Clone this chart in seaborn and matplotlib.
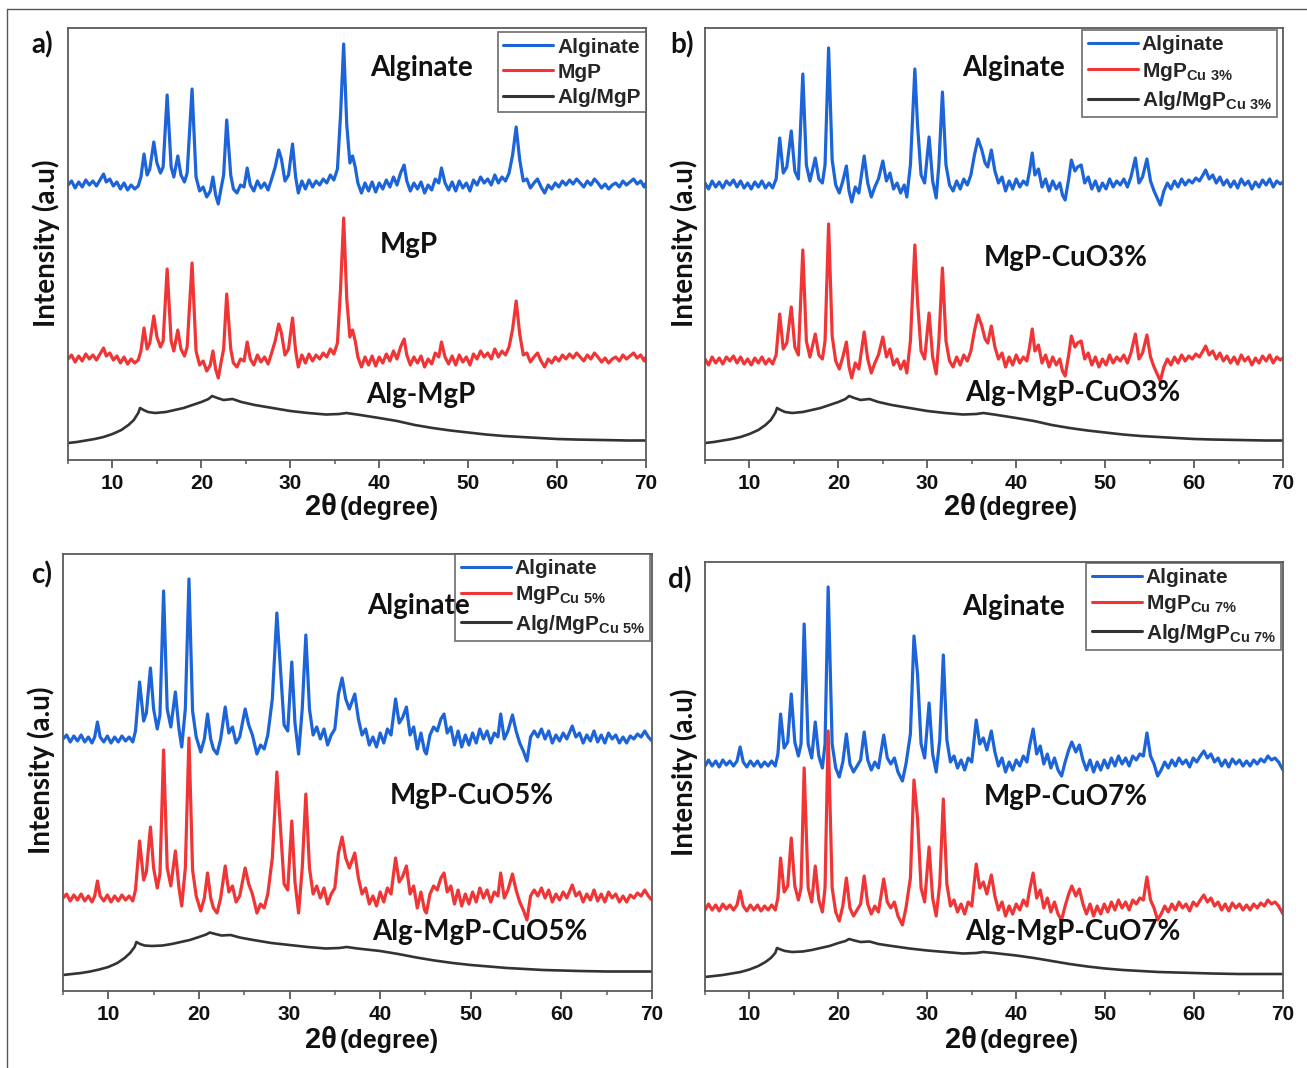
import matplotlib
matplotlib.use("Agg")
import matplotlib.pyplot as plt
import seaborn as sns
import pandas as pd
from matplotlib.lines import Line2D

# ---------------------------------------------------------------- data
two_theta_ticks = [10, 20, 30, 40, 50, 60, 70]

# crystalline scans: (2theta, counts above the pattern baseline)
scan_a = [
    (5.0, 0), (5.4, 4), (5.8, -3), (6.2, 3), (6.6, -2), (7.0, 5), (7.4, 0), (7.8, 4), (8.2, -1),
    (8.6, 5), (9.0, 11), (9.3, 3), (9.7, 6), (10.1, -1), (10.5, 3), (10.9, -4), (11.3, 2), (11.7, -5),
    (12.1, 0), (12.5, -4), (12.9, -1), (13.2, 8), (13.55, 31), (13.9, 10), (14.2, 16), (14.65, 43),
    (15.0, 22), (15.4, 12), (15.7, 18), (16.15, 90), (16.6, 18), (16.9, 8), (17.35, 29), (17.7, 10),
    (18.1, 3), (18.4, 12), (18.95, 96), (19.4, 8), (19.8, -6), (20.2, -2), (20.6, -12), (21.0, -6),
    (21.3, 8), (21.6, -10), (21.9, -19), (22.2, -4), (22.5, 10), (22.85, 65), (23.3, 10), (23.6, -4),
    (24.0, -8), (24.4, 0), (24.8, -2), (25.15, 17), (25.5, 0), (25.9, -6), (26.3, 4), (26.7, -3),
    (27.1, 2), (27.5, -5), (27.9, 6), (28.3, 18), (28.7, 35), (29.0, 26), (29.4, 4), (29.8, 10),
    (30.25, 41), (30.6, 8), (30.9, -8), (31.3, 4), (31.7, -4), (32.1, 5), (32.5, -2), (32.9, 4),
    (33.3, 0), (33.7, 6), (34.1, 2), (34.5, 10), (34.9, 5), (35.3, 16), (35.65, 70), (36.0, 141),
    (36.35, 60), (36.7, 22), (37.0, 29), (37.3, 18), (37.6, 2), (38.0, -8), (38.4, 2), (38.8, -6),
    (39.2, 3), (39.6, -7), (40.0, 2), (40.4, -4), (40.8, 5), (41.2, -2), (41.6, 8), (42.0, 0),
    (42.4, 12), (42.8, 20), (43.1, 4), (43.5, -6), (43.9, 2), (44.3, -4), (44.7, 3), (45.1, -8),
    (45.5, 0), (45.9, -5), (46.3, 6), (46.7, 2), (47.0, 17), (47.4, 2), (47.8, -5), (48.2, 3),
    (48.6, -6), (49.0, 4), (49.4, -3), (49.8, 2), (50.2, -6), (50.6, 5), (51.0, 0), (51.4, 8),
    (51.8, 2), (52.2, 6), (52.6, 0), (53.0, 10), (53.4, 2), (53.8, 8), (54.2, 4), (54.6, 12),
    (55.0, 30), (55.4, 58), (55.8, 25), (56.2, 4), (56.6, 6), (57.0, -3), (57.4, 2), (57.8, 6),
    (58.2, -2), (58.6, -8), (59.0, 0), (59.4, -4), (59.8, 2), (60.2, -2), (60.6, 4), (61.0, 0),
    (61.4, 5), (61.8, 1), (62.2, 6), (62.6, 2), (63.0, -2), (63.4, 4), (63.8, 0), (64.2, 6),
    (64.6, 2), (65.0, -3), (65.4, 1), (65.8, -4), (66.2, 0), (66.6, 2), (67.0, -2), (67.4, 4),
    (67.8, 0), (68.2, 3), (68.6, 6), (69.0, 1), (69.4, 4), (69.8, -2), (70.0, 2),
]

scan_b = [
    (5.0, 2), (5.4, -4), (5.8, 4), (6.2, -2), (6.6, 3), (7.0, -3), (7.4, 4), (7.8, 0), (8.2, 5),
    (8.6, -2), (9.0, 4), (9.4, -3), (9.8, 2), (10.2, -4), (10.6, 3), (11.0, -2), (11.4, 4), (11.8, -3),
    (12.2, 2), (12.6, -3), (13.0, 6), (13.4, 47), (13.8, 12), (14.2, 18), (14.7, 54), (15.1, 14),
    (15.5, 6), (16.0, 111), (16.4, 20), (16.8, 4), (17.4, 27), (17.8, 6), (18.2, 2), (18.5, 20),
    (18.9, 137), (19.3, 25), (19.7, 0), (20.1, -8), (20.5, 4), (20.9, 19), (21.2, -6), (21.5, -17),
    (21.9, -2), (22.3, -8), (22.9, 29), (23.3, 2), (23.7, -12), (24.1, -2), (24.5, 6), (25.0, 24),
    (25.4, 4), (25.8, 12), (26.2, -4), (26.6, 2), (27.0, -8), (27.4, 0), (27.7, -12), (28.1, 20),
    (28.6, 116), (28.9, 60), (29.3, 10), (29.7, 2), (30.2, 48), (30.6, 4), (31.0, -13), (31.3, 20),
    (31.7, 93), (32.1, 20), (32.5, 0), (32.9, -6), (33.3, 4), (33.7, -4), (34.1, 6), (34.5, 0),
    (34.9, 10), (35.3, 30), (35.7, 46), (36.1, 36), (36.5, 22), (36.8, 18), (37.2, 35), (37.6, 14),
    (38.0, 2), (38.4, 8), (38.8, -6), (39.2, 4), (39.6, -4), (40.0, 6), (40.4, -2), (40.8, 4),
    (41.2, 0), (41.5, 14), (41.8, 32), (42.1, 10), (42.5, 16), (42.9, -2), (43.3, 6), (43.7, -6),
    (44.1, 4), (44.5, -4), (44.9, 2), (45.2, -10), (45.5, -15), (45.9, 6), (46.2, 25), (46.6, 14),
    (46.9, 18), (47.3, 20), (47.7, 2), (48.1, 8), (48.5, -4), (48.9, 4), (49.3, -6), (49.7, 2),
    (50.1, -4), (50.5, 6), (50.9, -2), (51.3, 4), (51.7, 0), (52.1, 6), (52.5, -2), (52.9, 8),
    (53.4, 27), (53.8, 2), (54.2, 8), (54.7, 26), (55.1, 4), (55.5, -6), (55.9, -14), (56.2, -20),
    (56.6, -6), (57.0, 2), (57.4, -4), (57.8, 4), (58.2, -2), (58.6, 6), (59.0, 0), (59.4, 5),
    (59.8, 2), (60.2, 7), (60.6, 4), (61.0, 10), (61.3, 15), (61.7, 6), (62.1, 10), (62.5, 2),
    (62.9, 8), (63.3, 0), (63.7, 5), (64.1, -2), (64.5, 4), (64.9, -3), (65.3, 6), (65.7, 0),
    (66.1, 4), (66.5, -4), (66.9, 3), (67.3, -2), (67.7, 5), (68.1, 0), (68.5, 6), (68.9, -2),
    (69.3, 4), (69.7, 1), (70.0, 3),
]

scan_c = [
    (5.0, 0), (5.4, 4), (5.8, -3), (6.2, 3), (6.6, -2), (7.0, 4), (7.4, -3), (7.8, 2), (8.2, -4),
    (8.5, 2), (8.8, 17), (9.1, 2), (9.5, -3), (9.9, 3), (10.3, -4), (10.7, 2), (11.1, -3), (11.5, 3),
    (11.9, -2), (12.3, 2), (12.7, -3), (13.0, 8), (13.45, 57), (13.9, 18), (14.2, 26), (14.65, 71),
    (15.0, 30), (15.4, 10), (15.7, 24), (16.1, 148), (16.5, 30), (16.9, 12), (17.4, 47), (17.8, 10),
    (18.1, -8), (18.5, 30), (18.9, 160), (19.3, 28), (19.7, 2), (20.2, -13), (20.6, 0), (20.95, 25),
    (21.3, 0), (21.6, -10), (22.0, -15), (22.4, 0), (22.9, 32), (23.3, 6), (23.7, 12), (24.1, -4),
    (24.5, 2), (25.1, 30), (25.5, 14), (25.9, 4), (26.4, -15), (26.8, -6), (27.2, -10), (27.6, 4),
    (28.1, 40), (28.6, 126), (29.0, 70), (29.4, 14), (29.8, 8), (30.25, 77), (30.6, 16), (31.0, -15),
    (31.4, 30), (31.8, 104), (32.2, 30), (32.6, 4), (33.0, 12), (33.4, 0), (33.8, 10), (34.2, -6),
    (34.6, 4), (35.0, 10), (35.4, 45), (35.8, 61), (36.2, 40), (36.6, 30), (37.2, 45), (37.6, 20),
    (38.0, 4), (38.4, 10), (38.8, -6), (39.2, 2), (39.6, -8), (40.0, 6), (40.4, -4), (40.8, 10),
    (41.2, 4), (41.7, 40), (42.1, 16), (42.5, 22), (42.9, 32), (43.3, 4), (43.7, 12), (44.1, -10),
    (44.5, 6), (44.9, -12), (45.1, -15), (45.5, 4), (45.9, 12), (46.3, 8), (46.7, 20), (47.05, 25),
    (47.4, 6), (47.8, 12), (48.2, -6), (48.6, 8), (49.0, -8), (49.4, 4), (49.8, -6), (50.2, 6),
    (50.6, -4), (51.0, 10), (51.4, 0), (51.8, 8), (52.2, -4), (52.6, 6), (53.0, 2), (53.3, 25),
    (53.7, 0), (54.1, 8), (54.6, 24), (55.0, 8), (55.4, -4), (55.8, -12), (56.2, -22), (56.6, 2),
    (57.0, 8), (57.4, 2), (57.8, 10), (58.2, 0), (58.6, 8), (59.0, -4), (59.4, 4), (59.8, -2),
    (60.2, 6), (60.6, 0), (61.2, 13), (61.6, 2), (62.0, 6), (62.4, -4), (62.8, 4), (63.2, -2),
    (63.6, 8), (64.0, -3), (64.4, 4), (64.8, -4), (65.2, 6), (65.6, 0), (66.0, 4), (66.4, -4),
    (66.8, 2), (67.2, -4), (67.6, 3), (68.0, 0), (68.4, 5), (68.8, 2), (69.2, 8), (69.6, 2),
    (70.0, -2),
]

scan_d = [
    (5.0, -2), (5.4, 4), (5.8, -2), (6.2, 3), (6.6, -3), (7.0, 4), (7.4, -1), (7.8, 3), (8.2, -2),
    (8.6, 3), (8.95, 17), (9.3, 2), (9.7, -3), (10.1, 3), (10.5, -2), (10.9, 3), (11.3, -3),
    (11.7, 2), (12.1, -2), (12.5, 3), (12.9, -2), (13.2, 10), (13.5, 50), (13.9, 16), (14.3, 22),
    (14.7, 70), (15.1, 22), (15.5, 8), (15.8, 20), (16.15, 140), (16.6, 20), (17.0, 6), (17.4, 42),
    (17.8, 8), (18.2, -4), (18.5, 20), (18.85, 177), (19.3, 20), (19.7, -4), (20.1, -13), (20.5, 2),
    (20.9, 30), (21.3, 0), (21.7, -8), (22.1, -2), (22.5, 4), (22.9, 32), (23.3, 4), (23.7, -6),
    (24.1, 2), (24.5, -4), (25.1, 29), (25.5, 6), (25.9, 0), (26.3, 6), (26.7, -8), (27.2, -17),
    (27.6, 0), (28.1, 30), (28.5, 128), (28.9, 90), (29.3, 20), (29.7, 6), (30.2, 61), (30.6, 10),
    (31.0, -8), (31.4, 24), (31.8, 109), (32.2, 24), (32.6, 2), (33.0, 8), (33.4, -4), (33.8, 4),
    (34.2, -6), (34.6, 6), (35.0, 2), (35.5, 44), (35.9, 20), (36.3, 26), (36.7, 14), (37.2, 33),
    (37.6, 12), (38.0, -2), (38.4, 6), (38.8, -8), (39.2, 2), (39.6, -6), (40.0, 4), (40.4, -2),
    (40.8, 8), (41.2, 2), (41.5, 18), (41.9, 35), (42.3, 10), (42.7, 18), (43.1, 0), (43.5, 10),
    (43.9, -4), (44.3, 6), (44.7, -6), (45.1, -12), (45.5, 2), (45.9, 14), (46.25, 22), (46.7, 12),
    (47.1, 19), (47.5, 4), (47.9, -6), (48.3, 4), (48.7, -8), (49.1, 2), (49.5, -6), (49.9, 4),
    (50.3, -4), (50.7, 6), (51.1, -2), (51.5, 8), (51.9, 0), (52.3, 6), (52.7, -2), (53.1, 8),
    (53.5, 4), (53.9, 10), (54.3, 8), (54.7, 31), (55.1, 8), (55.5, 0), (55.9, -12), (56.3, -6),
    (56.7, 2), (57.1, -4), (57.5, 4), (57.9, -2), (58.3, 6), (58.7, 0), (59.1, 4), (59.5, -3),
    (59.9, 6), (60.3, 2), (60.7, 8), (61.1, 13), (61.5, 6), (61.9, 10), (62.3, 2), (62.7, 6),
    (63.1, -2), (63.5, 4), (63.9, -3), (64.3, 5), (64.7, 0), (65.1, 4), (65.5, -2), (65.9, 3),
    (66.3, -2), (66.7, 4), (67.1, 0), (67.5, 5), (67.9, 2), (68.3, 8), (68.7, 4), (69.1, 6),
    (69.5, 2), (70.0, -6),
]

# amorphous composite scans (counts above the axis floor)
amorph_theta = [5, 6, 7, 8, 9, 10, 11, 11.8, 12.4, 12.9, 13.1, 13.5, 14.0, 14.8, 16, 17, 18, 19,
                20, 20.8, 21.2, 21.8, 22.5, 23.5, 24.5, 26, 28, 30, 32, 34, 35.5, 36.3, 37.5,
                40, 42, 44, 46, 48, 50, 52, 54, 56, 58, 60, 62, 65, 68, 70]
amorph_a = [17, 18, 19.5, 21, 23, 26, 30, 35, 40, 47, 52, 50, 48, 47, 48, 50, 52, 55,
            58, 61, 64, 62, 60, 61, 58, 55, 52, 49, 47, 45.5, 46, 47, 45.5,
            42, 39, 35, 32, 29.5, 27.5, 25.5, 24, 23, 22, 21, 20.5, 20, 19.5, 19.5]
amorph_b = [17, 18, 19.5, 21, 23, 26, 30, 35, 40, 47, 52, 50, 48, 47, 48, 50, 52, 55,
            58, 61, 64, 62, 60, 61, 58, 55, 52, 49, 47, 45.5, 46, 47, 45.5,
            42, 39, 35, 32, 29.5, 27.5, 25.5, 24, 23, 22, 21, 20.5, 20, 19.5, 19.5]
amorph_c = [16, 17, 18, 19.5, 21.5, 24, 28, 33, 38, 44, 49, 47, 45.5, 45, 45.5, 47, 49, 51,
            54, 56.5, 58.5, 57, 55.5, 56, 53.5, 51, 48, 46, 44, 42.5, 43, 44, 42.5,
            40, 37, 33.5, 30.5, 28, 26, 24.5, 23, 22, 21, 20.5, 20, 19.5, 19.5, 19.5]
amorph_d = [14, 15, 16, 17.5, 19, 21.5, 25, 29, 33, 38, 43, 41.5, 40, 39, 39.5, 41, 43, 45,
            48, 50, 52, 50.5, 49, 49.5, 47, 45, 42.5, 40.5, 39, 37.5, 38, 39, 38,
            35.5, 33, 30, 27, 24.5, 22.5, 21, 20, 19, 18.5, 18, 17.5, 17, 17, 17]

legend_a = ["Alginate", "MgP", "Alg/MgP"]
legend_b = ["Alginate", r"MgP$_{\mathrm{Cu\ 3\%}}$", r"Alg/MgP$_{\mathrm{Cu\ 3\%}}$"]
legend_c = ["Alginate", r"MgP$_{\mathrm{Cu\ 5\%}}$", r"Alg/MgP$_{\mathrm{Cu\ 5\%}}$"]
legend_d = ["Alginate", r"MgP$_{\mathrm{Cu\ 7\%}}$", r"Alg/MgP$_{\mathrm{Cu\ 7\%}}$"]

curves_a = ["Alginate", "MgP", "Alg-MgP"]
curves_b = ["Alginate", "MgP-CuO3%", "Alg-MgP-CuO3%"]
curves_c = ["Alginate", "MgP-CuO5%", "Alg-MgP-CuO5%"]
curves_d = ["Alginate", "MgP-CuO7%", "Alg-MgP-CuO7%"]

panel_tags = ["a)", "b)", "c)", "d)"]

# ---------------------------------------------------------------- style
sns.set_theme(style="ticks")
plt.rcParams.update({
    "font.family": ["Liberation Sans", "DejaVu Sans"],
    "font.weight": "bold",
    "mathtext.fontset": "custom",
    "mathtext.rm": "Liberation Sans:bold",
    "mathtext.it": "Liberation Sans:bold",
    "mathtext.bf": "Liberation Sans:bold",
    "axes.edgecolor": "#5a5a5a",
    "axes.linewidth": 1.3,
    "xtick.color": "#5a5a5a",
    "xtick.labelcolor": "#111111",
})

BLUE, RED, GREY = "#1c64d8", "#ef3535", "#333333"
LABEL_FONT = ["Lato", "DejaVu Sans"]
W, H = 1307, 1068
fig = plt.figure(figsize=(W / 100, H / 100), dpi=100)
fig.patch.set_facecolor("white")


def fx(x):
    return x / W


def fy(y):
    return 1 - y / H


def draw_panel(rect_px, scan, amorph, legend_labels, curve_labels, offsets, text_pos,
               legend_anchor, tag, tag_xy, ylab_xy, xlab_xy):
    left, top, right, bottom = rect_px
    ax = fig.add_axes([fx(left), fy(bottom), (right - left) / W, (bottom - top) / H])
    span = bottom - top
    df = pd.DataFrame(scan, columns=["theta", "counts"])
    sns.lineplot(x=df["theta"], y=df["counts"] + offsets[0], ax=ax, color=BLUE, lw=2.3,
                 estimator=None, sort=False, label=legend_labels[0])
    sns.lineplot(x=df["theta"], y=df["counts"] + offsets[1], ax=ax, color=RED, lw=2.3,
                 estimator=None, sort=False, label=legend_labels[1])
    sns.lineplot(x=amorph_theta, y=amorph, ax=ax, color=GREY, lw=1.9,
                 estimator=None, sort=False, label=legend_labels[2])
    ax.set_xlim(5, 70)
    ax.set_ylim(0, span)
    ax.set_xticks(two_theta_ticks)
    ax.set_xticks(range(5, 71, 5), minor=True)
    ax.set_yticks([])
    ax.tick_params(axis="x", which="major", length=6, width=1.3, direction="out",
                   labelsize=15, pad=4)
    ax.tick_params(axis="x", which="minor", length=3, width=1.1, direction="out")
    for lbl in ax.get_xticklabels():
        lbl.set_fontweight("bold")
    for s in ax.spines.values():
        s.set_visible(True)
    ax.set_xlabel("")
    ax.set_ylabel("")

    leg = ax.legend(loc="upper right", bbox_to_anchor=legend_anchor, borderaxespad=0,
                    frameon=True, fancybox=False, fontsize=15, handlelength=2.4,
                    handletextpad=0.2, labelspacing=0.3, borderpad=0.25)
    leg.get_frame().set_edgecolor("#555555")
    leg.get_frame().set_linewidth(1.3)
    leg.set_zorder(5)
    for t in leg.get_texts():
        t.set_fontweight("bold")
    for ln in leg.get_lines():
        ln.set_linewidth(2.2)

    # curve captions sit above the legend box so nothing hides them
    for label, (tx, ty) in zip(curve_labels, text_pos):
        ax.text(tx, ty, label, transform=ax.transAxes, ha="center", va="center",
                fontsize=20, fontweight="bold", family=LABEL_FONT, color="#111111",
                zorder=6)

    fig.text(fx(tag_xy[0]), fy(tag_xy[1]), tag, ha="center", va="center", fontsize=20,
             fontweight="bold", family=LABEL_FONT, color="#111111")
    fig.text(fx(ylab_xy[0]), fy(ylab_xy[1]), "Intensity (a.u)", rotation=90, ha="center",
             va="center", fontsize=20, fontweight="bold", family=LABEL_FONT,
             color="#111111")
    fig.text(fx(xlab_xy[0]), fy(xlab_xy[1]), "2\u03b8", ha="right", va="center", fontsize=21,
             fontweight="bold", color="#111111")
    fig.text(fx(xlab_xy[0] + 3), fy(xlab_xy[1] + 1), "(degree)", ha="left", va="center",
             fontsize=18, fontweight="bold", color="#111111")
    return ax


draw_panel((68, 28, 646, 460), scan_a, amorph_a, legend_a, curves_a, (275, 101),
           [(0.611, 0.907), (0.59, 0.498), (0.611, 0.150)], (1.0, 0.99),
           panel_tags[0], (42, 45), (46, 243), (337, 507))
draw_panel((705, 28, 1283, 460), scan_b, amorph_b, legend_b, curves_b, (275, 99),
           [(0.533, 0.907), (0.625, 0.468), (0.637, 0.155)], (0.99, 0.995),
           panel_tags[1], (682, 45), (684, 243), (976, 507))
draw_panel((63, 554, 652, 991), scan_c, amorph_c, legend_c, curves_c, (252, 93),
           [(0.603, 0.881), (0.694, 0.446), (0.708, 0.135)], (0.997, 1.0),
           panel_tags[2], (42, 575), (41, 770), (337, 1040))
draw_panel((705, 562, 1283, 991), scan_d, amorph_d, legend_d, curves_d, (227, 83),
           [(0.533, 0.895), (0.625, 0.452), (0.637, 0.1375)], (0.997, 0.998),
           panel_tags[3], (680, 580), (684, 772), (977, 1040))

# thin outer frame along the top and left edge
fig.add_artist(Line2D([fx(7), fx(W)], [fy(9), fy(9)], color="#555555", lw=1.0))
fig.add_artist(Line2D([fx(7), fx(7)], [fy(9), fy(H)], color="#555555", lw=1.0))

fig.savefig("out.png", dpi=100, facecolor="white")
